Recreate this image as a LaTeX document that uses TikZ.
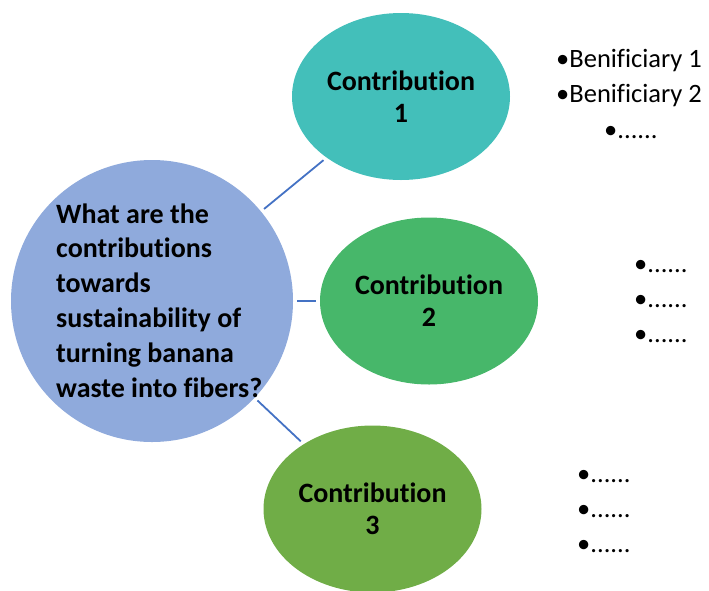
\documentclass[tikz,border=0pt]{standalone}
\usepackage{fontspec}
\setmainfont{Carlito}[Ligatures=NoCommon]
\usetikzlibrary{shapes.geometric}
\definecolor{hubblue}{HTML}{8FAADC}
\definecolor{cteal}{HTML}{43BFBA}
\definecolor{cgreen}{HTML}{47B76A}
\definecolor{colive}{HTML}{70AD47}
\definecolor{linkblue}{HTML}{4472C4}
\begin{document}
\begin{tikzpicture}[x=1pt,y=-1pt,
  hub/.style={circle,fill=hubblue,minimum size=282pt,inner sep=0pt,outer sep=4pt},
  contrib/.style={ellipse,minimum width=218pt,minimum height=167pt,inner sep=0pt,outer sep=4pt,
    font=\fontsize{28}{32}\selectfont\bfseries,align=center},
  link/.style={draw=linkblue,line width=1.8pt},
  bul/.style={anchor=base west,inner sep=0pt,font=\fontsize{26.5}{30}\selectfont}]
\useasboundingbox (0,0) rectangle (709,590);
\node[hub] (hub) at (152,301) {};
\node[anchor=base west,align=left,inner sep=0pt,font=\fontsize{28}{34.8}\selectfont\bfseries] (q) at (56,397)
  {What are the\\contributions\\towards\\sustainability of\\turning banana\\waste into fibers?};
\node[contrib,fill=cteal] (c1) at (401,96.5) {Contribution\\1};
\node[contrib,fill=cgreen] (c2) at (429,301) {Contribution\\2};
\node[contrib,fill=colive] (c3) at (372.5,509) {Contribution\\3};
\draw[link] (hub) -- (c1);
\draw[link] (hub) -- (c2);
\draw[link] (hub) -- (c3);
\node[bul] (b11) at (556,67) {•Benificiary 1};
\node[bul] (b12) at (556,102) {•Benificiary 2};
\node[bul] (b13) at (604,138) {•......};
\node[bul] (b21) at (634,272) {•......};
\node[bul] (b22) at (634,307) {•......};
\node[bul] (b23) at (634,342) {•......};
\node[bul] (b31) at (577,482) {•......};
\node[bul] (b32) at (577,517) {•......};
\node[bul] (b33) at (577,552) {•......};
\end{tikzpicture}
\end{document}
